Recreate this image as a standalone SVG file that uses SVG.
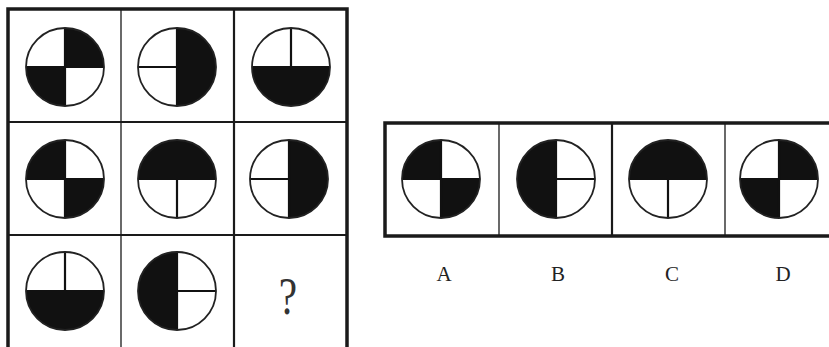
<svg xmlns="http://www.w3.org/2000/svg" xmlns:xlink="http://www.w3.org/1999/xlink" width="829" height="347" viewBox="0 0 829 347">
<style>
.frame{fill:none;stroke:#1a1a1a;stroke-width:3.5}
.thin{stroke:#1a1a1a;stroke-width:1.3}
.mid{stroke:#1a1a1a;stroke-width:2.2}
.blk{fill:#111}
.ring{fill:none;stroke:#222;stroke-width:1.8}
.div{stroke:#111;stroke-width:2.2}
.lbl{font-family:"Liberation Serif",serif;fill:#222;font-size:21px;text-anchor:middle}
.q{font-family:"Liberation Serif",serif;fill:#333;font-size:53px;text-anchor:middle}
</style>
<defs>
<path id="qTR" class="blk" d="M0,0 V-39 A39,39 0 0 1 39,0 Z"/>
<path id="hR" class="blk" d="M0,-39 A39,39 0 0 1 0,39 Z"/>
<circle id="ring" class="ring" r="39"/>
<g id="diagA"><use xlink:href="#qTR"/><use xlink:href="#qTR" transform="rotate(180)"/><line class="div" x1="-39" y1="0" x2="39" y2="0"/><line class="div" x1="0" y1="-39" x2="0" y2="39"/><use xlink:href="#ring"/></g>
<g id="diagB"><use xlink:href="#qTR" transform="rotate(-90)"/><use xlink:href="#qTR" transform="rotate(90)"/><line class="div" x1="-39" y1="0" x2="39" y2="0"/><line class="div" x1="0" y1="-39" x2="0" y2="39"/><use xlink:href="#ring"/></g>
<g id="halfR"><use xlink:href="#hR"/><line class="div" x1="0" y1="-39" x2="0" y2="39"/><line class="div" x1="-39" y1="0" x2="0" y2="0"/><use xlink:href="#ring"/></g>
</defs>
<g id="grid">
<rect class="frame" x="8" y="9" width="339" height="345"/>
<line class="thin" x1="121" y1="9" x2="121" y2="347"/>
<line class="mid" x1="234" y1="9" x2="234" y2="347"/>
<line class="mid" x1="8" y1="122" x2="347" y2="122"/>
<line class="mid" x1="8" y1="235" x2="347" y2="235"/>
</g>
<g id="options-frame">
<rect class="frame" x="385" y="123" width="450" height="113"/>
<line class="thin" x1="499" y1="123" x2="499" y2="236"/>
<line class="mid" x1="612" y1="123" x2="612" y2="236"/>
<line class="thin" x1="725" y1="123" x2="725" y2="236"/>
</g>
<g id="r1c1"><use xlink:href="#diagA" transform="translate(65,67)"/></g>
<g id="r1c2"><use xlink:href="#halfR" transform="translate(177,67)"/></g>
<g id="r1c3"><use xlink:href="#halfR" transform="translate(291,67) rotate(90)"/></g>
<g id="r2c1"><use xlink:href="#diagB" transform="translate(65,179)"/></g>
<g id="r2c2"><use xlink:href="#halfR" transform="translate(177,179) rotate(-90)"/></g>
<g id="r2c3"><use xlink:href="#halfR" transform="translate(289,179)"/></g>
<g id="r3c1"><use xlink:href="#halfR" transform="translate(65,291) rotate(90)"/></g>
<g id="r3c2"><use xlink:href="#halfR" transform="translate(177,291) rotate(180)"/></g>
<g id="r3c3"><text class="q" transform="translate(288,314) scale(0.78,1)">?</text></g>
<g id="optA"><use xlink:href="#diagB" transform="translate(441,179)"/><text class="lbl" x="444" y="281">A</text></g>
<g id="optB"><use xlink:href="#halfR" transform="translate(556,179) rotate(180)"/><text class="lbl" x="558" y="281">B</text></g>
<g id="optC"><use xlink:href="#halfR" transform="translate(668,179) rotate(-90)"/><text class="lbl" x="672" y="281">C</text></g>
<g id="optD"><use xlink:href="#diagA" transform="translate(779,179)"/><text class="lbl" x="783" y="281">D</text></g>
<g id="connectors"/>
</svg>
